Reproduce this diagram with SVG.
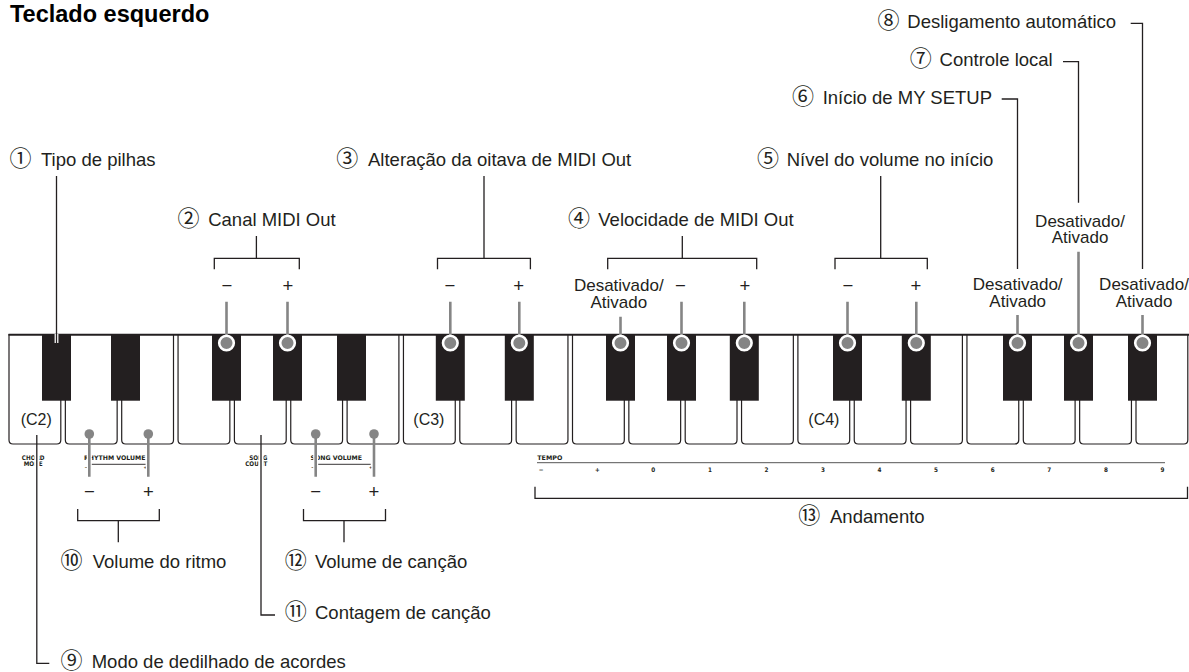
<svg xmlns="http://www.w3.org/2000/svg" xmlns:xlink="http://www.w3.org/1999/xlink" width="1189" height="672" viewBox="0 0 1189 672">
<style>
.t{font-family:"Liberation Sans",Arial,sans-serif;font-size:18.5px;fill:#231f20}
.n{font-family:"Noto Sans CJK JP","DejaVu Sans",sans-serif;font-size:22px}
.d{font-family:"Liberation Sans",Arial,sans-serif;font-size:17px;fill:#231f20;text-anchor:middle}
.s{font-family:"Liberation Sans",Arial,sans-serif;font-size:18.5px;fill:#231f20;text-anchor:middle}
.k{font-family:"Liberation Sans",Arial,sans-serif;font-size:16px;fill:#231f20}
.m{font-family:"DejaVu Sans Condensed","DejaVu Sans",sans-serif;font-size:6.3px;font-weight:bold;fill:#231f20}
.mc{font-family:"DejaVu Sans Condensed","DejaVu Sans",sans-serif;font-size:6.3px;font-weight:bold;fill:#231f20;text-anchor:middle}
.ln{fill:none;stroke:#231f20;stroke-width:1.3}
.gl{fill:none;stroke:#858585;stroke-width:2.6}
.halo{fill:none;stroke:#fff;stroke-width:5}
.wk{fill:#fff;stroke:#231f20;stroke-width:1.2}
.bk{fill:#231f20}
.dot{fill:#858585;stroke:#fff;stroke-width:2.6}
.wdot{fill:#858585}
</style>
<defs>
<path id="wk" class="wk" d="M0,334 V440 Q0,444 4,444 H47.8 Q51.8,444 51.8,440 V334"/>
<rect id="bk" class="bk" x="-14.5" y="334" width="29" height="66.7"/>
<circle id="dot" class="dot" cx="0" cy="343" r="7.3"/>
</defs>

<text x="10" y="22" style="font-family:'Liberation Sans',Arial,sans-serif;font-size:23.5px;font-weight:bold;fill:#000">Teclado esquerdo</text>

<g id="keyboard">
<use href="#wk" x="9"/><use href="#wk" x="65.35"/><use href="#wk" x="121.7"/><use href="#wk" x="178.05"/><use href="#wk" x="234.4"/><use href="#wk" x="290.75"/><use href="#wk" x="347.1"/>
<use href="#wk" x="403.45"/><use href="#wk" x="459.8"/><use href="#wk" x="516.15"/><use href="#wk" x="572.5"/><use href="#wk" x="628.85"/><use href="#wk" x="685.2"/><use href="#wk" x="741.55"/>
<use href="#wk" x="797.9"/><use href="#wk" x="854.25"/><use href="#wk" x="910.6"/><use href="#wk" x="966.95"/><use href="#wk" x="1023.3"/><use href="#wk" x="1079.65"/><use href="#wk" x="1136"/>
<line x1="8.5" y1="334.7" x2="1189" y2="334.7" stroke="#231f20" stroke-width="2"/>
<use href="#bk" x="56.5"/><use href="#bk" x="125.5"/><use href="#bk" x="226.5"/><use href="#bk" x="287.5"/><use href="#bk" x="351.5"/>
<use href="#bk" x="450.3"/><use href="#bk" x="519.3"/><use href="#bk" x="620.5"/><use href="#bk" x="681.5"/><use href="#bk" x="744.3"/>
<use href="#bk" x="847.5"/><use href="#bk" x="916.3"/><use href="#bk" x="1017.5"/><use href="#bk" x="1078.5"/><use href="#bk" x="1142.5"/>
<text class="k" x="20.7" y="425">(C2)</text>
<text class="k" x="413.3" y="425">(C3)</text>
<text class="k" x="808.3" y="425">(C4)</text>
</g>

<g id="panel-labels">
<text class="mc" x="33.2" y="460">CHORD</text>
<text class="mc" x="33.2" y="465.5">MODE</text>
<text class="m" x="84" y="460" textLength="61.5" lengthAdjust="spacingAndGlyphs">RHYTHM VOLUME</text>
<line x1="89.3" y1="464.3" x2="145.7" y2="464.3" stroke="#231f20" stroke-width="0.9"/>
<text class="m" x="84.5" y="469" style="font-size:4.5px">−</text>
<text class="m" x="143.5" y="469" style="font-size:4.5px">+</text>
<text class="mc" x="258.3" y="460">SONG</text>
<text class="mc" x="256.3" y="465.5">COUNT</text>
<text class="m" x="310.5" y="460" textLength="51.5" lengthAdjust="spacingAndGlyphs">SONG VOLUME</text>
<line x1="315" y1="464.3" x2="370.7" y2="464.3" stroke="#231f20" stroke-width="0.9"/>
<text class="m" x="311" y="469" style="font-size:4.5px">−</text>
<text class="m" x="369" y="469" style="font-size:4.5px">+</text>
<text class="m" x="537.3" y="460" textLength="25" lengthAdjust="spacingAndGlyphs">TEMPO</text>
<line x1="537" y1="462.7" x2="1165" y2="462.7" stroke="#555" stroke-width="1"/>
<g class="mc">
<text x="541" y="472">−</text><text x="597.3" y="472">+</text><text x="653.3" y="472">0</text><text x="710" y="472">1</text><text x="766.6" y="472">2</text><text x="823" y="472">3</text>
<text x="879.5" y="472">4</text><text x="936" y="472">5</text><text x="992.7" y="472">6</text><text x="1049.3" y="472">7</text><text x="1106" y="472">8</text><text x="1162.5" y="472">9</text>
</g>
</g>

<g id="connectors">
<line x1="56.5" y1="334" x2="56.5" y2="343" stroke="#fff" stroke-width="3.8"/>
<line class="ln" x1="56.5" y1="176" x2="56.5" y2="343"/>
<path class="ln" d="M256.4,236 V258.3 M214.3,269.3 V258.3 H299.3 V269.3"/>
<path class="ln" d="M484,176 V258.3 M437.5,269.3 V258.3 H530.4 V269.3"/>
<path class="ln" d="M682.3,236 V258.3 M607.7,269.3 V258.3 H756.7 V269.3"/>
<path class="ln" d="M880.7,176 V258.3 M835,269.3 V258.3 H927.3 V269.3"/>
<path class="ln" d="M1001.7,99 H1017.5 V269"/>
<path class="ln" d="M1063,61.7 H1078.5 V202.7"/>
<path class="ln" d="M1130.7,23.3 H1142.5 V269"/>
<path class="gl" d="M226.5,301.7 V343 M287.5,301.7 V343 M450.3,301.7 V343 M519.3,301.7 V343 M620.5,316.7 V343 M681.5,301.7 V343 M744.3,301.7 V343 M847.5,301.7 V343 M916.3,301.7 V343 M1017.5,315 V343 M1078.5,251.7 V343 M1142.5,315 V343"/>
<use href="#dot" x="226.5"/><use href="#dot" x="287.5"/><use href="#dot" x="450.3"/><use href="#dot" x="519.3"/>
<use href="#dot" x="620.5"/><use href="#dot" x="681.5"/><use href="#dot" x="744.3"/><use href="#dot" x="847.5"/><use href="#dot" x="916.3"/>
<use href="#dot" x="1017.5"/><use href="#dot" x="1078.5"/><use href="#dot" x="1142.5"/>
<path class="halo" d="M89.3,446 V476.7 M148.3,446 V476.7 M315.7,446 V476.7 M374,446 V476.7" stroke-width="4.5"/>
<path class="gl" d="M89.3,434 V476.7 M148.3,434 V476.7 M315.7,434 V476.7 M374,434 V476.7"/>
<circle class="wdot" cx="89.3" cy="434" r="4.8"/><circle class="wdot" cx="148.3" cy="434" r="4.8"/>
<circle class="wdot" cx="315.7" cy="434" r="4.8"/><circle class="wdot" cx="374" cy="434" r="4.8"/>
<path class="halo" d="M36.8,450 V470 M261,450 V470" stroke-width="4"/>
<path class="ln" d="M36.8,435 V663.3 H49.3"/>
<path class="ln" d="M261,435 V615 H275"/>
<path class="ln" d="M77.7,509 V520.7 H159.3 V509 M118.3,520.7 V542.3"/>
<path class="ln" d="M303.5,509 V520.7 H385.5 V509 M344,520.7 V542.3"/>
<path class="ln" d="M535,486.7 V498.3 H1187.5 V486.7"/>
</g>

<g id="label-1"><text class="t" y="166"><tspan class="n" x="9.5">①</tspan><tspan x="41">Tipo de pilhas</tspan></text></g>
<g id="label-2"><text class="t" y="225.7"><tspan class="n" x="177.4">②</tspan><tspan x="208.2">Canal MIDI Out</tspan></text>
<text class="s" x="226.8" y="291.7">−</text><text class="s" x="287.8" y="291.7">+</text></g>
<g id="label-3"><text class="t" y="166"><tspan class="n" x="336.3">③</tspan><tspan x="368">Alteração da oitava de MIDI Out</tspan></text>
<text class="s" x="450" y="291.7">−</text><text class="s" x="518.6" y="291.7">+</text></g>
<g id="label-4"><text class="t" y="225.7"><tspan class="n" x="568.1">④</tspan><tspan x="598.3">Velocidade de MIDI Out</tspan></text>
<text class="d" y="291"><tspan x="618.8">Desativado/</tspan><tspan x="618.8" dy="17">Ativado</tspan></text>
<text class="s" x="680.5" y="291.7">−</text><text class="s" x="745" y="291.7">+</text></g>
<g id="label-5"><text class="t" y="166"><tspan class="n" x="757.1">⑤</tspan><tspan x="786.7">Nível do volume no início</tspan></text>
<text class="s" x="848" y="291.7">−</text><text class="s" x="915.8" y="291.7">+</text></g>
<g id="label-6"><text class="t" y="103.5"><tspan class="n" x="792.1">⑥</tspan><tspan x="822.7">Início de MY SETUP</tspan></text>
<text class="d" y="290"><tspan x="1017.7">Desativado/</tspan><tspan x="1017.7" dy="16.7">Ativado</tspan></text></g>
<g id="label-7"><text class="t" y="65.7"><tspan class="n" x="909.8">⑦</tspan><tspan x="939.6">Controle local</tspan></text>
<text class="d" y="226.7"><tspan x="1080">Desativado/</tspan><tspan x="1080" dy="16.7">Ativado</tspan></text></g>
<g id="label-8"><text class="t" y="28.3"><tspan class="n" x="877.6">⑧</tspan><tspan x="907.3">Desligamento automático</tspan></text>
<text class="d" y="290"><tspan x="1144">Desativado/</tspan><tspan x="1144" dy="16.7">Ativado</tspan></text></g>
<g id="label-9"><text class="t" y="668.3"><tspan class="n" x="60.5">⑨</tspan><tspan x="91.7">Modo de dedilhado de acordes</tspan></text></g>
<g id="label-10"><text class="s" x="89.3" y="498">−</text><text class="s" x="148.3" y="498">+</text>
<text class="t" y="568.3"><tspan class="n" x="60.5">⑩</tspan><tspan x="92.7">Volume do ritmo</tspan></text></g>
<g id="label-11"><text class="t" y="619.3"><tspan class="n" x="284.8">⑪</tspan><tspan x="315">Contagem de canção</tspan></text></g>
<g id="label-12"><text class="s" x="315.7" y="498">−</text><text class="s" x="374" y="498">+</text>
<text class="t" y="568.3"><tspan class="n" x="284.8">⑫</tspan><tspan x="315">Volume de canção</tspan></text></g>
<g id="label-13"><text class="t" y="523.3"><tspan class="n" x="798.2">⑬</tspan><tspan x="830">Andamento</tspan></text></g>
</svg>
